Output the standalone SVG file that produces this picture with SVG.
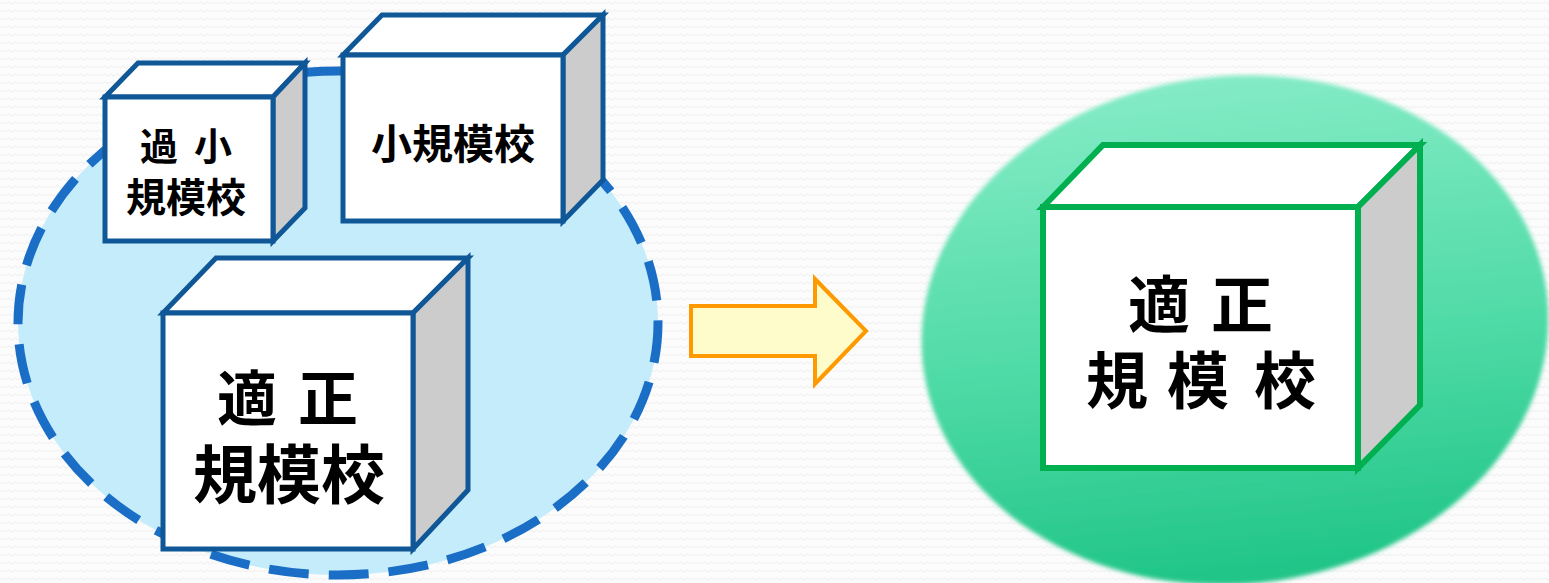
<svg xmlns="http://www.w3.org/2000/svg" width="1549" height="583" viewBox="0 0 1549 583">
<defs>
<pattern id="bg" width="12" height="8" patternUnits="userSpaceOnUse">
<rect width="12" height="8" fill="#fcfcfc"/>
<path d="M0 4 L3 2 L6 4 L9 2 L12 4" fill="none" stroke="#efefef" stroke-width="1"/>
</pattern>
<linearGradient id="green" x1="0" y1="0" x2="0" y2="1">
<stop offset="0" stop-color="#84ebc6"/>
<stop offset="0.55" stop-color="#4edaa6"/>
<stop offset="1" stop-color="#1fc487"/>
</linearGradient>
<filter id="soft" x="-5%" y="-5%" width="110%" height="110%">
<feGaussianBlur stdDeviation="2"/>
</filter>
</defs>
<style>
.blue{stroke:#0f5797;stroke-width:5;stroke-linejoin:miter}
.grn{stroke:#00b050;stroke-width:6;stroke-linejoin:miter}
.front{fill:#ffffff}
.top{fill:#ffffff}
.side{fill:#cccccc}
.t{font-family:"Noto Sans CJK JP","Noto Sans CJK SC",sans-serif;font-weight:700;fill:#000}
.m{text-anchor:middle}
</style>
<rect width="1549" height="583" fill="url(#bg)"/>

<g id="group-ellipse">
<ellipse cx="338" cy="323" rx="320" ry="252" fill="#c5ecfb" stroke="#1a6ec6" stroke-width="9" stroke-dasharray="40 20"/>
</g>

<g id="box-kasho">
<polygon class="top blue" points="105,97 138,63 305,63 273,97"/>
<polygon class="side blue" points="273,97 305,63 305,208 273,241"/>
<rect class="front blue" x="105" y="97" width="168" height="144"/>
<text class="t" y="160" font-size="38"><tspan x="140">過</tspan> <tspan x="194">小</tspan></text>
<text class="t m" x="186" y="212" font-size="40">規模校</text>
</g>

<g id="box-sho">
<polygon class="top blue" points="343,55 382,15 603,15 563,55"/>
<polygon class="side blue" points="563,55 603,15 603,180 563,221"/>
<rect class="front blue" x="343" y="55" width="220" height="166"/>
<text class="t m" x="453" y="159" font-size="41">小規模校</text>
</g>

<g id="box-tekisei-left">
<polygon class="top blue" points="163,313 216,258 468,258 413,313"/>
<polygon class="side blue" points="413,313 468,258 468,490 413,549"/>
<rect class="front blue" x="163" y="313" width="250" height="236"/>
<text class="t" y="421" font-size="60"><tspan x="217">適</tspan> <tspan x="298">正</tspan></text>
<text class="t m" x="289" y="498" font-size="64">規模校</text>
</g>

<g id="connectors">
<polygon points="691,306 815,306 815,279 866,331 815,384 815,356 691,356" fill="#fffccc" stroke="#ff9900" stroke-width="4" stroke-linejoin="miter"/>
</g>

<g id="ellipse-green">
<ellipse cx="1235" cy="330" rx="314" ry="254" transform="rotate(-6 1235 330)" fill="url(#green)" filter="url(#soft)"/>
</g>

<g id="box-tekisei-right">
<polygon class="top grn" points="1043,207 1103,145 1420,145 1358,207"/>
<polygon class="side grn" points="1358,207 1420,145 1420,405 1358,468"/>
<rect class="front grn" x="1043" y="207" width="315" height="261"/>
<text class="t" y="328" font-size="62"><tspan x="1128">適</tspan> <tspan x="1211">正</tspan></text>
<text class="t" y="404" font-size="62"><tspan x="1086">規</tspan> <tspan x="1167">模</tspan> <tspan x="1254">校</tspan></text>
</g>
</svg>
